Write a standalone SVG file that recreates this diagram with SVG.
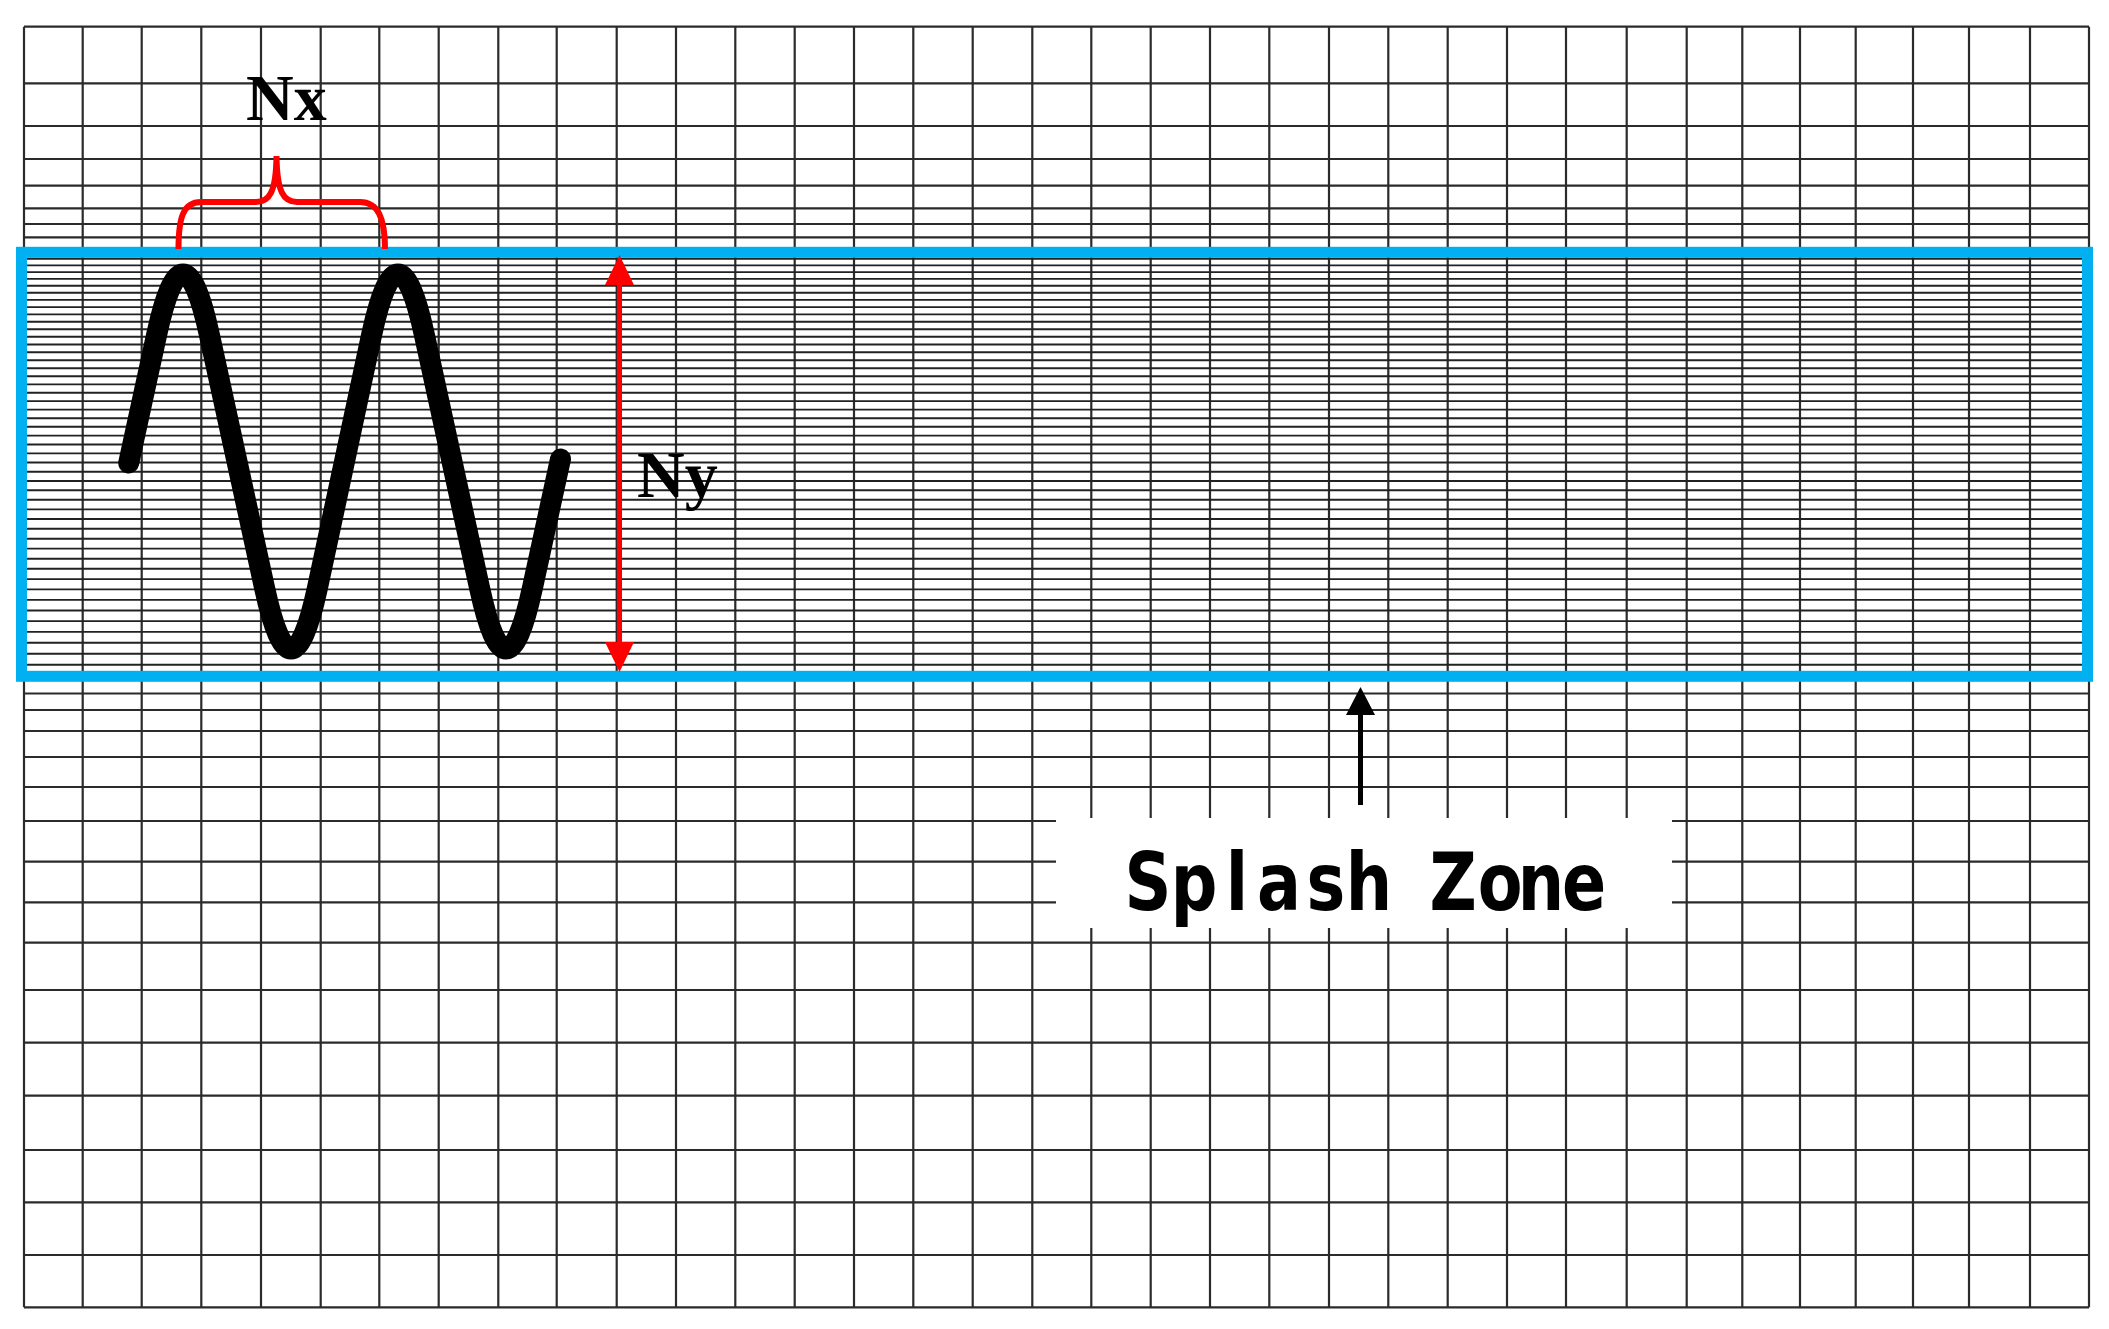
<svg xmlns="http://www.w3.org/2000/svg" width="2109" height="1329" viewBox="0 0 2109 1329">
<style>
.grid{fill:none;stroke:#2b2b2b;stroke-width:2.2}
.band-lines{fill:none;stroke:#222;stroke-width:1.9}
.blue{fill:none;stroke:#00B0F0;stroke-width:11}
.wave{fill:none;stroke:#000;stroke-width:21;stroke-linecap:round;stroke-linejoin:round}
.red{fill:none;stroke:#FF0000;stroke-width:6;stroke-linecap:butt}
.lbl{font-family:"Liberation Serif","Times New Roman",serif;font-weight:bold;font-size:66px;fill:#000}
.splash{font-family:"DejaVu Sans","Liberation Sans",sans-serif;font-weight:bold;font-size:79.5px;fill:#000;text-anchor:middle}
</style>
<defs>
<marker id="headRed" viewBox="0 0 30 30" refX="15" refY="15" markerWidth="30" markerHeight="30" markerUnits="userSpaceOnUse" orient="auto-start-reverse">
<path d="M0,0.5 L30,15 L0,29.5 z" fill="#FF0000"/>
</marker>
<marker id="headBlack" viewBox="0 0 30 30" refX="15" refY="15" markerWidth="30" markerHeight="30" markerUnits="userSpaceOnUse" orient="auto-start-reverse">
<path d="M0,0.5 L28,15 L0,29.5 z" fill="#000"/>
</marker>
</defs>
<rect x="0" y="0" width="2109" height="1329" fill="#fff"/>
<g id="mesh">
<path class="grid" d="M24 26.7V1307.3M82.7 26.7V1307.3M141.7 26.7V1307.3M201.3 26.7V1307.3M261 26.7V1307.3M320.7 26.7V1307.3M379.3 26.7V1307.3M438.7 26.7V1307.3M498.3 26.7V1307.3M556.7 26.7V1307.3M616.7 26.7V1307.3M676 26.7V1307.3M735.3 26.7V1307.3M794.7 26.7V1307.3M854 26.7V1307.3M913.3 26.7V1307.3M972.7 26.7V1307.3M1032.3 26.7V1307.3M1091.3 26.7V1307.3M1150.7 26.7V1307.3M1210 26.7V1307.3M1269.3 26.7V1307.3M1329 26.7V1307.3M1388.3 26.7V1307.3M1447.7 26.7V1307.3M1507 26.7V1307.3M1566 26.7V1307.3M1626.7 26.7V1307.3M1686.7 26.7V1307.3M1742.3 26.7V1307.3M1800 26.7V1307.3M1855.7 26.7V1307.3M1913 26.7V1307.3M1969 26.7V1307.3M2030 26.7V1307.3M2089 26.7V1307.3"/>
<path class="grid" d="M24 26.7H2089M24 83.3H2089M24 126H2089M24 159H2089M24 185.7H2089M24 208.3H2089M24 224H2089M24 237.3H2089M24 693.5H2089M24 710H2089M24 731H2089M24 757H2089M24 787H2089M24 821H2089M24 861.7H2089M24 902.3H2089M24 942.7H2089M24 990H2089M24 1042.7H2089M24 1095.7H2089M24 1150H2089M24 1202.3H2089M24 1255H2089M24 1307.3H2089"/>
<path class="band-lines" d="M24 252.3H2089M24 258.8H2089M24 265.4H2089M24 272.1H2089M24 278.9H2089M24 285.8H2089M24 292.8H2089M24 299.9H2089M24 307.1H2089M24 314.4H2089M24 321.8H2089M24 329.2H2089M24 336.8H2089M24 344.5H2089M24 352.3H2089M24 360.2H2089M24 368.2H2089M24 376.3H2089M24 384.4H2089M24 392.7H2089M24 401.1H2089M24 409.6H2089M24 418.2H2089M24 426.8H2089M24 435.6H2089M24 444.5H2089M24 453.4H2089M24 462.5H2089M24 471.7H2089M24 481H2089M24 490.3H2089M24 499.8H2089M24 509.4H2089M24 519H2089M24 528.8H2089M24 538.7H2089M24 548.6H2089M24 558.7H2089M24 568.8H2089M24 579.1H2089M24 589.4H2089M24 599.9H2089M24 610.5H2089M24 621.1H2089M24 631.9H2089M24 642.7H2089M24 653.7H2089M24 664.7H2089M24 675.8H2089"/>
</g>
<g id="splash-zone-band">
<rect class="blue" x="21.5" y="252.3" width="2066" height="424"/>
</g>
<g id="wave">
<path class="wave" d="M128.7,463 L156.8,334 Q183,214 209.2,334 L264.8,589 Q291,709 317.2,589 L371.8,334 Q398,214 424.2,334 L479.8,589 Q506,709 532.2,589 L560.5,459"/>
</g>
<g id="nx">
<path class="red" d="M178.5,249 C178.5,218 183,202 201,202 L256,202 C269,202 276,193 276.5,156 C277,193 284,202 297,202 L360,202 C378,202 385,218 385,249"/>
<text class="lbl" x="246" y="120">Nx</text>
</g>
<g id="ny">
<text class="lbl" x="637" y="497">Ny</text>
</g>
<g id="splash-label">
<rect x="1056" y="818" width="616" height="110" fill="#fff"/>
<g transform="scale(0.82,1)">
<text class="splash" x="1400 1456.1 1508.5 1559.8 1617.1 1669.5 1719.5 1772 1829.3 1879.3 1931.7" y="910">Splash Zone</text>
</g>
</g>
<g id="connectors">
<line x1="619.5" y1="270" x2="619.5" y2="657" stroke="#FF0000" stroke-width="5" marker-start="url(#headRed)" marker-end="url(#headRed)"/>
<line x1="1360.5" y1="805" x2="1360.5" y2="700" stroke="#000" stroke-width="5" marker-end="url(#headBlack)"/>
</g>
</svg>
